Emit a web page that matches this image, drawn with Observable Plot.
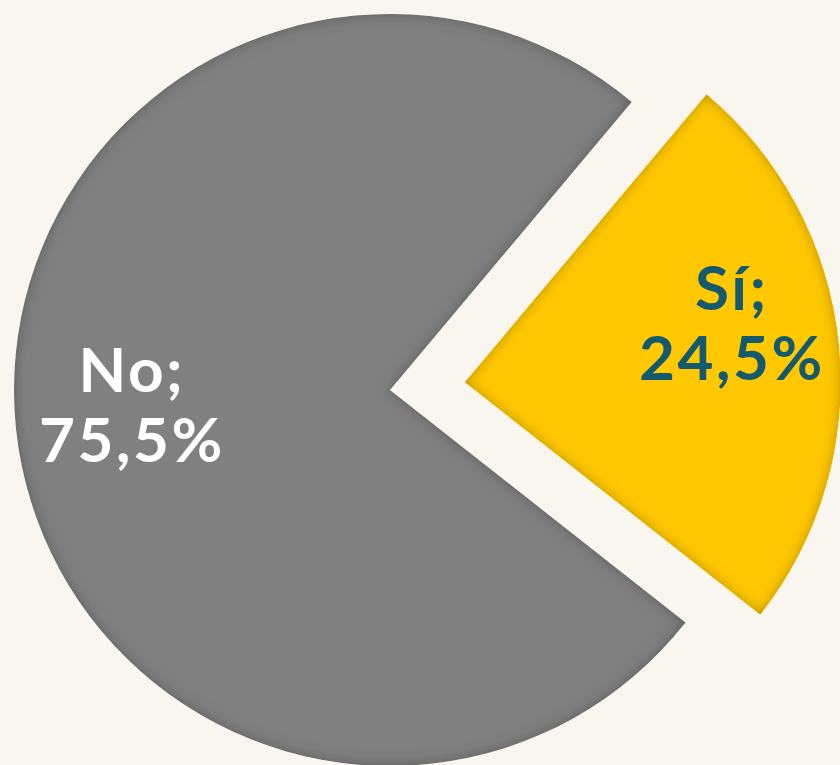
<!DOCTYPE html>
<html>
<head>
<meta charset="utf-8">
<script src="https://cdn.jsdelivr.net/npm/d3@7"></script>
<script src="https://cdn.jsdelivr.net/npm/@observablehq/plot@0.6"></script>
<style>
  html, body { margin: 0; padding: 0; background: #f9f6ef; overflow: hidden; }
  #chart svg { display: block; }
  #chart text { letter-spacing: 2.5px; }
</style>
</head>
<body>
<div id="chart"></div>
<script>
// ---- Data ----
const categories = ["Sí", "No"];
const values = [24.5, 75.5];
const valueLabels = ["24,5%", "75,5%"];

// ---- Styles ----
const sliceColors = ["#ffc800", "#808080"];
const labelColors = ["#135a6e", "#ffffff"];
const explodeBy = [0.2, 0];          // fraction of radius
const startDeg = 40;                 // first slice starts at 40° clockwise from 12 o'clock
const labelRadius = 0.71;
const labelShiftPx = [[1, -33], [7, -13]];

const W = 840, H = 765, Rpx = 376, CXpx = 390, CYpx = 390;

const data = categories.map((c, i) => ({category: c, value: values[i], label: valueLabels[i], i}));
const pie = d3.pie().value(d => d.value).sort(null)
  .startAngle(startDeg * Math.PI / 180)
  .endAngle((startDeg + 360) * Math.PI / 180);
const slices = pie(data).map(a => {
  const mid = (a.startAngle + a.endAngle) / 2;
  const e = explodeBy[a.data.i];
  const ox = Math.sin(mid) * e, oy = Math.cos(mid) * e;
  return {
    ...a, ox, oy,
    color: sliceColors[a.data.i],
    lx: ox + Math.sin(mid) * labelRadius + labelShiftPx[a.data.i][0] / Rpx,
    ly: oy + Math.cos(mid) * labelRadius - labelShiftPx[a.data.i][1] / Rpx,
    text: `${a.data.category};\n${a.data.label}`,
    tcolor: labelColors[a.data.i]
  };
});

function pieMark(index, scales, values, dimensions) {
  const sx = scales.x, sy = scales.y;
  const r = sx(1) - sx(0);
  const g = d3.create("svg:g");
  const defs = g.append("defs");
  const f = defs.append("filter").attr("id", "bevel")
    .attr("x", "-5%").attr("y", "-5%").attr("width", "110%").attr("height", "110%");
  f.append("feGaussianBlur").attr("in", "SourceAlpha").attr("stdDeviation", 7).attr("result", "blur");
  f.append("feComposite").attr("in", "SourceAlpha").attr("in2", "blur")
    .attr("operator", "arithmetic").attr("k1", 0).attr("k2", 1).attr("k3", -1).attr("k4", 0).attr("result", "edge");
  f.append("feFlood").attr("flood-color", "#000").attr("flood-opacity", 0.55).attr("result", "col");
  f.append("feComposite").attr("in", "col").attr("in2", "edge").attr("operator", "in").attr("result", "shadow");
  const m = f.append("feMerge");
  m.append("feMergeNode").attr("in", "SourceGraphic");
  m.append("feMergeNode").attr("in", "shadow");
  const arcGen = d3.arc().innerRadius(0).outerRadius(r);
  g.selectAll("path").data(slices).join("path")
    .attr("transform", d => `translate(${sx(d.ox)},${sy(d.oy)})`)
    .attr("d", arcGen)
    .attr("fill", d => d.color)
    .attr("filter", "url(#bevel)");
  return g.node();
}

const chart = Plot.plot({
  width: W,
  height: H,
  margin: 0,
  style: {background: "transparent"},
  x: {domain: [-CXpx / Rpx, (W - CXpx) / Rpx], range: [0, W], axis: null},
  y: {domain: [-(H - CYpx) / Rpx, CYpx / Rpx], range: [H, 0], axis: null},
  marks: [
    pieMark,
    Plot.text(slices, {
      x: "lx", y: "ly", text: "text",
      fill: d => d.tcolor,
      fontSize: 62, fontWeight: "bold", fontFamily: "Lato",
      lineHeight: 70 / 62,
      textAnchor: "middle", lineAnchor: "middle"
    })
  ]
});
document.getElementById("chart").appendChild(chart);
</script>
</body>
</html>
